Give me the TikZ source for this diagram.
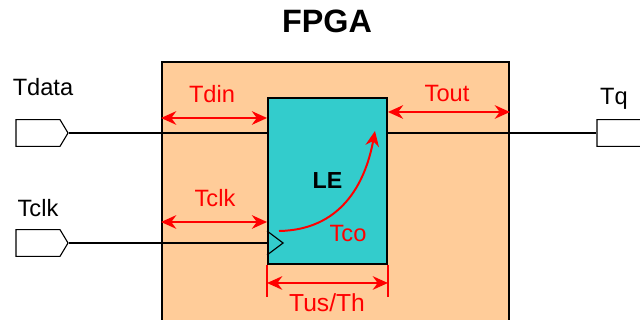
\documentclass[tikz,border=0pt]{standalone}
\usepackage{fontspec}
\setmainfont{Liberation Sans}
\usetikzlibrary{arrows.meta, shapes.symbols, positioning, calc}
\definecolor{peach}{RGB}{255,204,153}
\definecolor{teal}{RGB}{51,204,204}
\definecolor{dimred}{RGB}{255,0,0}

\begin{document}
\begin{tikzpicture}[
            x=0.025cm, y=-0.025cm,
            port/.style={draw, thick, fill=white, shape=signal, signal to=east, signal pointer angle=118, inner sep=0pt, minimum width=1.3cm, minimum height=0.67cm},
            fpgabox/.style={draw, line width=1.3pt, fill=peach, inner sep=0pt, minimum width=8.675cm, minimum height=6.7cm},
            lebox/.style={draw, line width=1.3pt, fill=teal, inner sep=0pt, minimum width=2.975cm, minimum height=4.15cm, font=\fontsize{16.5}{18}\selectfont\bfseries},
            wire/.style={thick},
            dim/.style={{Stealth[length=0.38cm, width=0.34cm]}-{Stealth[length=0.38cm, width=0.34cm]}, line width=1.4pt, dimred},
            lbl/.style={anchor=base, font=\fontsize{16.8}{18}\selectfont},
            rlbl/.style={lbl, text=dimred}
        ]
            \useasboundingbox (0,0) rectangle (640,320);
            \node[anchor=base, font=\fontsize{23}{25}\selectfont\bfseries] (title) at (327,33) {FPGA};
            \node[fpgabox] (fpga) at (335.5,196) {};
            \node[lebox] (le) at (327.5,181) {LE};
            % ports
            \node[port] (pdata) at (38,133) {};
            \node[port] (pclk) at (38,243) {};
            \node[port] (pq) at (619,133) {};
            \node[lbl] (ldata) at (43,96) {Tdata};
            \node[lbl] (lclk) at (38,217) {Tclk};
            \node[lbl] (lq) at (614,105) {Tq};
            % wires
            \draw[wire] (pdata.east) -- (pdata.east -| le.west);
            \draw[wire] (pclk.east) -- (pclk.east -| le.west);
            \draw[wire] (le.east |- pq.west) -- (pq.west);
            \coordinate (ck) at (pclk.east -| le.west);
            \draw[wire, line join=miter] ($(ck)+(0,-12)$) -- ($(ck)+(16,0)$) -- ($(ck)+(0,12)$);
            % timing arrows
            \draw[dim] (fpga.west |- 0,118) -- (le.west |- 0,118);
            \node[rlbl] (tdin) at (212,103) {Tdin};
            \draw[dim] (fpga.west |- 0,222) -- (le.west |- 0,222);
            \node[rlbl] (tclk) at (215,207) {Tclk};
            \draw[dim] (le.east |- 0,112) -- (fpga.east |- 0,112);
            \node[rlbl] (tout) at (447,102) {Tout};
            \draw[line width=1.4pt, dimred] (le.south west) -- ++(0,32);
            \draw[line width=1.4pt, dimred] (le.south east) -- ++(0,32);
            \draw[dim] (le.west |- 0,283) -- (le.east |- 0,283);
            \node[rlbl, font=\fontsize{17.5}{19}\selectfont] (tus) at (327,312) {Tus/Th};
            \coordinate (co1) at (279,231);
            \coordinate (co2) at (375,131);
            \draw[-{Stealth[length=0.38cm, width=0.34cm]}, line width=1.4pt, dimred] (co1) .. controls (340,230) and (365,185) .. (co2);
            \node[rlbl] (tco) at (348,242) {Tco};
        \end{tikzpicture}
\end{document}
